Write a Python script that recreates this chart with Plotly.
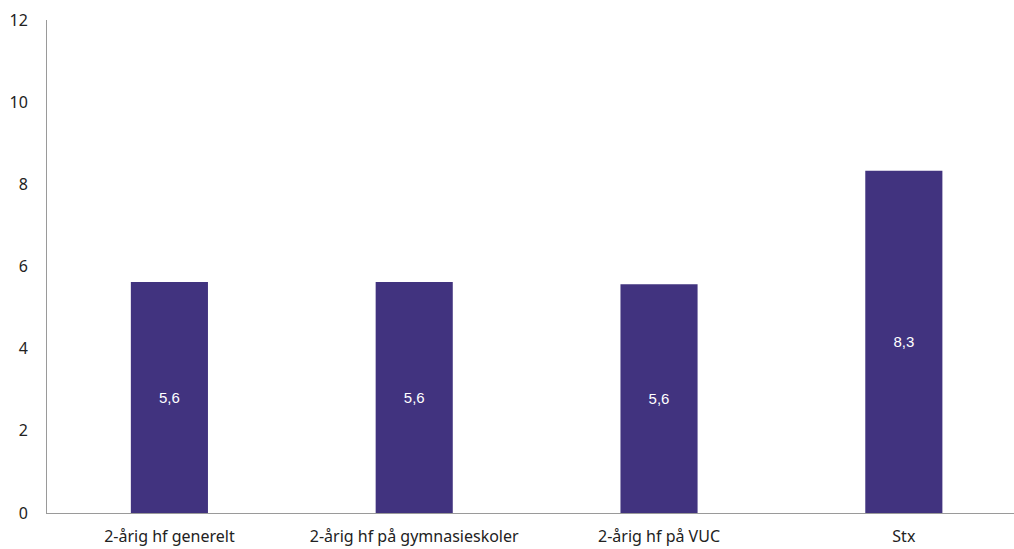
import plotly.graph_objects as go

categories = ["2-årig hf generelt", "2-årig hf på gymnasieskoler", "2-årig hf på VUC", "Stx"]
values = [5.62, 5.62, 5.57, 8.33]
labels = [f"{v:.1f}".replace(".", ",") for v in values]
y_ticks = [0, 2, 4, 6, 8, 10, 12]

fig = go.Figure(go.Bar(
    x=categories, y=values, text=labels,
    textposition="inside", insidetextanchor="middle",
    textfont=dict(family="Liberation Sans, Arial", size=15, color="white"),
    marker=dict(color="#41337F", line=dict(width=0)),
    width=0.315,
))
fig.update_layout(
    width=1014, height=549,
    margin=dict(l=47, r=0, t=20, b=36),
    plot_bgcolor="white", paper_bgcolor="white",
    showlegend=False,
    font=dict(family="Noto Sans", size=16, color="#222"),
)
fig.update_yaxes(range=[0, 12], tickvals=y_ticks, showgrid=False, zeroline=False,
                 showline=True, linecolor="#9a9a9a", linewidth=1, ticks="",
                 ticklabelstandoff=15, tickfont=dict(size=16), automargin=False)
fig.update_xaxes(showline=True, linecolor="#9a9a9a", linewidth=1, ticks="",
                 showgrid=False, tickfont=dict(size=16), automargin=False,
                 ticklabelstandoff=9, range=[-0.5, 3.45])
fig.write_html("out.html", config={"displayModeBar": False},
               post_script="document.body.style.margin='0';document.body.style.overflow='hidden';")
